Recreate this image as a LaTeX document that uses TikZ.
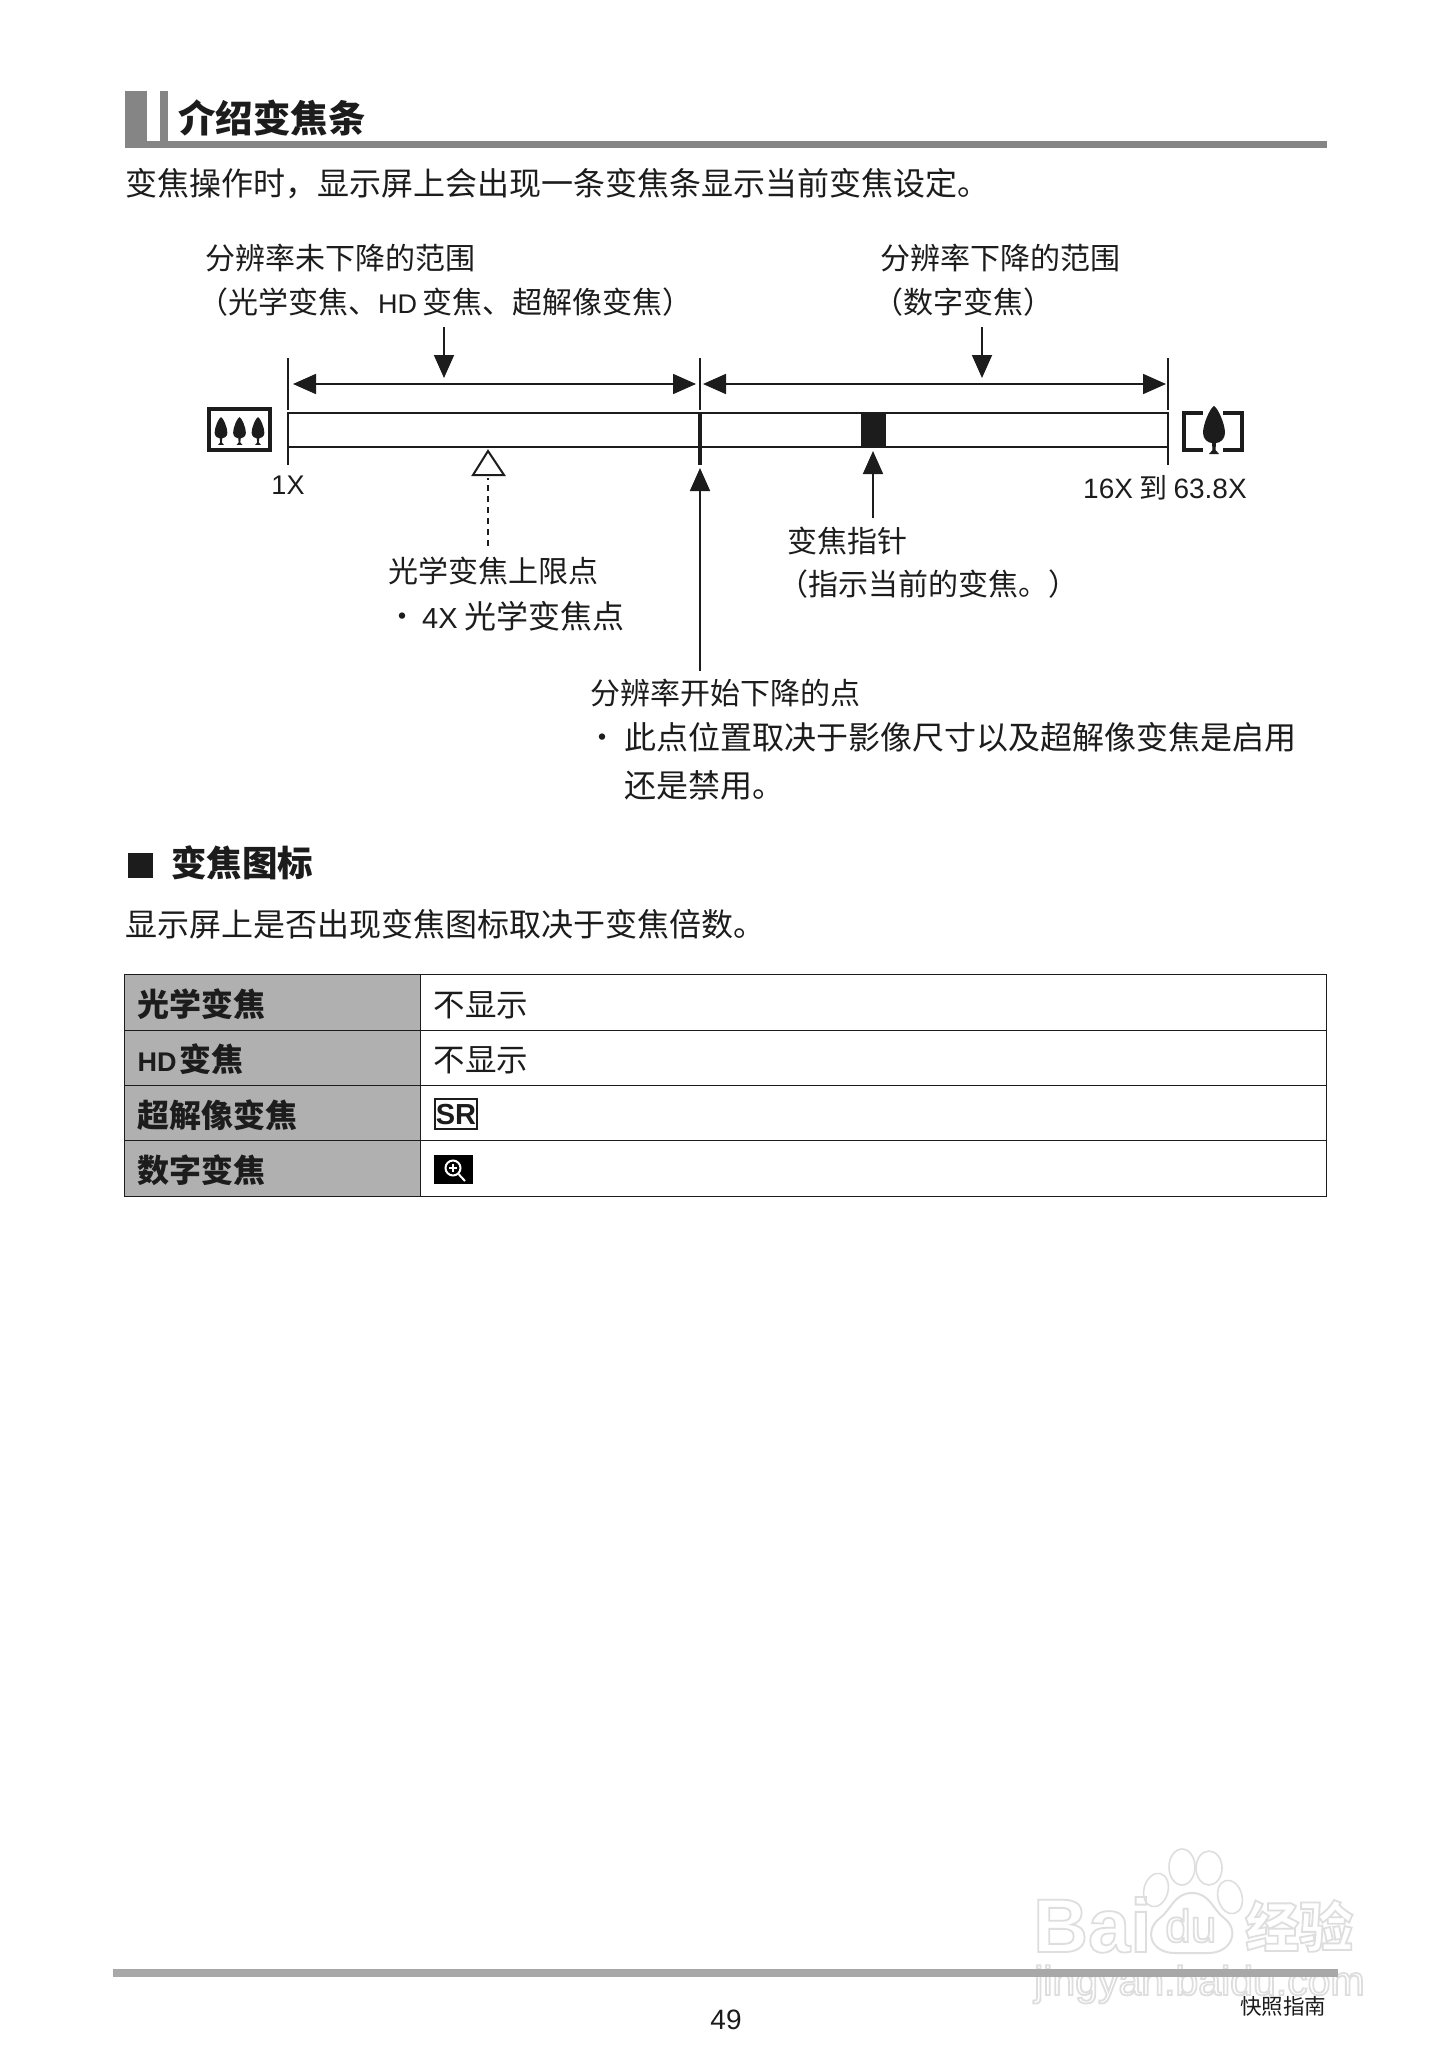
\documentclass[tikz,border=0pt]{standalone}
\usepackage{fontspec}
\setmainfont{Noto Sans CJK SC}
\newfontfamily\latinfont{Liberation Sans}
\usepackage{xcolor}
\usetikzlibrary{matrix, positioning, arrows.meta}

\definecolor{headgrey}{HTML}{858585}
\definecolor{tablegrey}{HTML}{B0B0B0}
\definecolor{footgrey}{HTML}{A8A8A8}
\definecolor{markgrey}{HTML}{DEDEDE}
\definecolor{inkblack}{HTML}{1C1C1C}

% faint outlined lettering of the page stamp
\newcommand{\markword}[5]{%
  \node[anchor=base west, inner sep=0pt, font=#4] (#1) at (#2,#3)
    {\special{pdf:code q 1 Tr 1.8 w 0.87 G}#5\special{pdf:code Q}};
}
\newcommand{\hdtag}[1]{{\latinfont\fontsize{#1}{32}\selectfont HD}}

\begin{document}
\begin{tikzpicture}[
  x=1pt, y=-1pt,
  every node/.style={inner sep=0pt, text=inkblack},
  lab/.style={anchor=west, font=\fontsize{30}{36}\selectfont, text height=25pt, text depth=5pt},
  body/.style={anchor=west, font=\fontsize{32}{38}\selectfont, text height=27pt, text depth=5pt},
  head/.style={anchor=west, font=\fontsize{37.5}{42}\selectfont\bfseries, text height=31pt, text depth=6pt},
  arrow/.style={-{Triangle[length=23pt, width=20pt]}, inkblack, line width=1.8pt},
  dblarrow/.style={{Triangle[length=23pt, width=20pt]}-{Triangle[length=23pt, width=20pt]}, inkblack, line width=1.8pt},
  tick/.style={inkblack, line width=1.5pt},
  treepic/.pic={
    \fill[inkblack] (0,0) .. controls (4,2) and (11,18) .. (11,27)
      .. controls (11,33) and (6,37) .. (2,37) -- (1.5,44) -- (5,48) -- (-5,48) -- (-1.5,44) -- (-2,37)
      .. controls (-6,37) and (-11,33) .. (-11,27) .. controls (-11,18) and (-4,2) .. (0,0) -- cycle;
  }
]
\useasboundingbox (0,0) rectangle (1452,2064);
\fill[white] (0,0) rectangle (1452,2064);

% stamp
\foreach \px/\py/\rx/\ry/\ang in {1182/1867/13/18/0, 1209/1868/13/17/0, 1156/1890/12/17/-15, 1230/1897/12/17/15} {
  \draw[markgrey, line width=1.6pt, rotate around={\ang:(\px,\py)}] (\px,\py) ellipse ({\rx} and {\ry});
}
\draw[markgrey, line width=2pt] (1192,1893) .. controls (1210,1893) and (1213,1910) .. (1224,1918)
  .. controls (1240,1930) and (1232,1953) .. (1208,1953) -- (1175,1953)
  .. controls (1150,1953) and (1144,1930) .. (1160,1918) .. controls (1171,1910) and (1174,1893) .. (1192,1893) -- cycle;
\markword{mBai}{1033}{1952}{\latinfont\bfseries\fontsize{76}{80}\selectfont}{Bai}
\markword{mDu}{1165}{1942}{\latinfont\fontsize{46}{50}\selectfont}{du}
\markword{mJy}{1245}{1947}{\bfseries\fontsize{54}{60}\selectfont}{经验}
\markword{mUrl}{1034}{1995}{\latinfont\fontsize{41}{46}\selectfont}{jingyan.baidu.com}

% title rule
\fill[headgrey] (125,91) rectangle (147,148);
\fill[headgrey] (160,91) rectangle (168,148);
\fill[headgrey] (125,141) rectangle (1327,148);
\node[head] (tTitle) at (178,120) {介绍变焦条};
\node[body] (tIntro) at (125,184) {变焦操作时，显示屏上会出现一条变焦条显示当前变焦设定。};

% ends of the bar
\coordinate (barL) at (288,413);
\coordinate (barM) at (700,413);
\coordinate (barR) at (1168,413);
\draw[inkblack, line width=2pt] (barL) rectangle (1168,447);
\draw[tick] (288,358) -- (288,410);
\draw[tick] (700,358) -- (700,410);
\draw[tick] (1168,358) -- (1168,410);
\draw[tick] (barL) -- (288,465);
\draw[tick] (barR) -- (1168,465);
\draw[inkblack, line width=3.5pt] (barM) -- (700,465);
\fill[inkblack] (861,413) rectangle (886,447);

% ranges
\coordinate (rangeAl) at (293,384);
\coordinate (rangeAr) at (696,384);
\coordinate (rangeBl) at (703,384);
\coordinate (rangeBr) at (1166,384);
\draw[dblarrow] (rangeAl) -- (rangeAr);
\draw[dblarrow] (rangeBl) -- (rangeBr);

\node[lab] (lRangeA) at (205,259) {分辨率未下降的范围};
\node[lab, below=14pt of lRangeA.south west, anchor=north west, xshift=-7pt] (lRangeAb) {（光学变焦、\hdtag{27}\hspace{5pt}变焦、超解像变焦）};
\node[lab] (lRangeB) at (880,259) {分辨率下降的范围};
\node[lab, below=14pt of lRangeB.south west, anchor=north west, xshift=-7pt] (lRangeBb) {（数字变焦）};
\coordinate (inA) at (444,327);
\coordinate (inAt) at (444,378);
\coordinate (inB) at (982,327);
\coordinate (inBt) at (982,378);
\draw[arrow] (inA) -- (inAt);
\draw[arrow] (inB) -- (inBt);

% icons
\draw[inkblack, line width=4pt] (209,409) rectangle (270,450);
\foreach \tx in {221,239.5,258} {
  \pic[scale=0.58] at (\tx,417) {treepic};
}
\draw[inkblack, line width=3.6pt] (1203,412.8) -- (1183.8,412.8) -- (1183.8,450.2) -- (1203,450.2);
\draw[inkblack, line width=3.6pt] (1223,412.8) -- (1242.2,412.8) -- (1242.2,450.2) -- (1223,450.2);
\pic at (1214,406) {treepic};

\node[lab, anchor=center, font=\latinfont\fontsize{27}{32}\selectfont] (lOne) at (288,484) {1X};
\node[lab, anchor=west, font=\fontsize{28}{32}\selectfont] (lMax) at (1083,488) {{\latinfont 16X} 到 {\latinfont 63.8X}};

% optical limit
\coordinate (triTop) at (488,451);
\coordinate (triLeft) at (473,475);
\coordinate (triRight) at (504,475);
\draw[inkblack, line width=2pt, line join=miter] (triTop) -- (triRight) -- (triLeft) -- cycle;
\coordinate (limFoot) at (488,546);
\coordinate (limHead) at (488,478);
\draw[inkblack, line width=2pt, dash pattern=on 6pt off 5pt] (limFoot) -- (limHead);
\node[lab] (lLimit) at (388,572) {光学变焦上限点};
\node[lab] (lLimDot) at (387,617) {•};
\node[body] (lLimit2) at (422,617) {{\latinfont\fontsize{29}{32}\selectfont 4X}\hspace{7pt}光学变焦点};

% pointer
\coordinate (ptrFoot) at (873,518);
\coordinate (ptrHead) at (873,451);
\draw[arrow] (ptrFoot) -- (ptrHead);
\node[lab] (lPtr) at (787,542) {变焦指针};
\node[lab] (lPtrb) at (778,585) {（指示当前的变焦。）};

% start of the drop
\coordinate (dropFoot) at (700,671);
\coordinate (dropHead) at (700,468);
\draw[arrow] (dropFoot) -- (dropHead);
\node[lab] (lDrop) at (590,694) {分辨率开始下降的点};
\node[lab] (lDropDot) at (587.5,738) {•};
\node[body] (lDrop2) at (624,738) {此点位置取决于影像尺寸以及超解像变焦是启用};
\node[body] (lDrop3) at (624,786) {还是禁用。};

% icon section
\fill[inkblack] (128,853) rectangle (153,878);
\node[head, font=\fontsize{35.5}{40}\selectfont\bfseries] (tIcons) at (171,864) {变焦图标};
\node[body] (tIconsB) at (125,925) {显示屏上是否出现变焦图标取决于变焦倍数。};

\matrix[matrix of nodes, nodes in empty cells, anchor=north west, inner sep=0pt,
        column sep=-1pt, row sep=-1pt, ampersand replacement=\&,
        nodes={draw=inkblack, line width=1pt, minimum height=55.4pt, anchor=center,
               align=left, inner xsep=13pt, text height=31pt, text depth=3pt,
               font=\fontsize{31.5}{36}\selectfont},
        column 1/.style={nodes={fill=tablegrey, text width=270pt, font=\fontsize{32}{36}\selectfont\bfseries}},
        column 2/.style={nodes={text width=880pt}}] (tbl) at (124,974) {
  光学变焦 \& 不显示 \\
  {\fontsize{27}{32}\selectfont\latinfont\bfseries HD}\hspace{3pt}变焦 \& 不显示 \\
  超解像变焦 \& \\
  数字变焦 \& \\
};

% mode icons
\draw[inkblack, line width=2.4pt] (435,1099) rectangle (477,1129);
\node[anchor=center, font=\latinfont\bfseries\fontsize{29}{32}\selectfont] (iSR) at (456,1114.5) {SR};
\fill[black] (434,1155) rectangle (473,1184);
\draw[white, line width=2pt] (453,1168) circle (7.5);
\draw[white, line width=2pt] (458.5,1174) -- (465,1181);
\draw[white, line width=1.5pt] (449,1168) -- (457,1168);
\draw[white, line width=1.5pt] (453,1164) -- (453,1172);

% footer
\fill[footgrey] (113,1969) rectangle (1338,1977);
\node[anchor=center, font=\latinfont\fontsize{28}{32}\selectfont] (pageNo) at (726,2020) {49};
\node[anchor=west, font=\fontsize{21.5}{26}\selectfont] (footName) at (1240,2006) {快照指南};
\end{tikzpicture}
\end{document}
